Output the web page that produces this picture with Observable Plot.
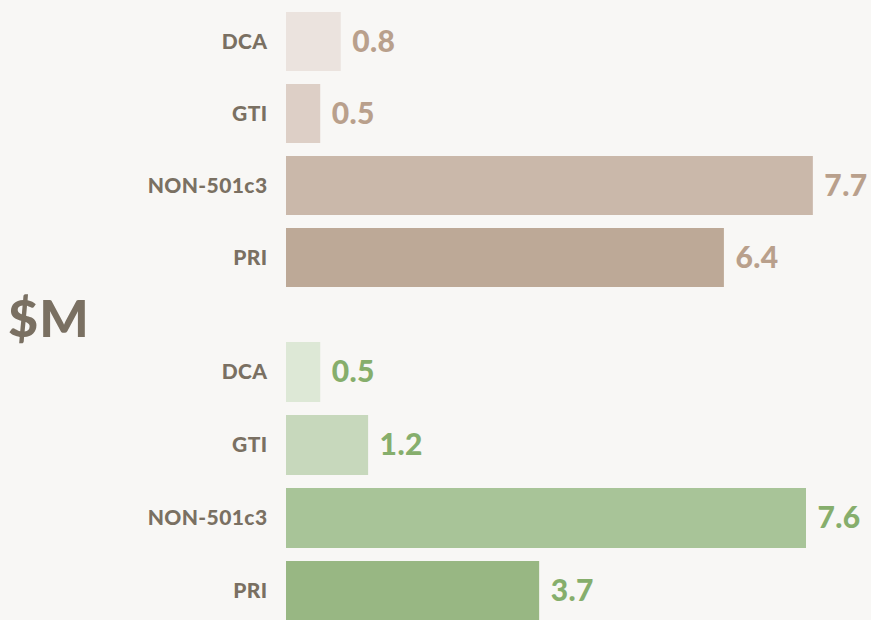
<!DOCTYPE html>
<html>
<head>
<meta charset="utf-8">
<script src="https://cdn.jsdelivr.net/npm/d3@7"></script>
<script src="https://cdn.jsdelivr.net/npm/@observablehq/plot@0.6"></script>
<style>
  html, body { margin: 0; padding: 0; background: #f8f7f5; overflow: hidden; }
  #wrap { position: relative; width: 871px; height: 620px; overflow: hidden; background: #f8f7f5; font-family: Lato, "Open Sans", sans-serif; }
  #wrap svg { display: block; background: transparent; }
  #unit { position: absolute; left: 8px; top: 291px; font-size: 52px; line-height: 52px; font-weight: 900; letter-spacing: 1px; color: #7a7062; }
</style>
</head>
<body>
<div id="wrap"><div id="unit">$M</div></div>
<script>
const categories = ["DCA", "GTI", "NON-501c3", "PRI"];
const topValues = [0.8, 0.5, 7.7, 6.4];
const bottomValues = [0.5, 1.2, 7.6, 3.7];
const topColors = ["#ebe3de", "#ddcfc6", "#cab8aa", "#bda997"];
const bottomColors = ["#dde8d6", "#c7d8bc", "#a8c498", "#98b783"];
const topLabelColor = "#b9a08c";
const bottomLabelColor = "#86ae6c";
const axisColor = "#7a7062";

function groupChart(values, colors, labelColor, height, marginTop) {
  const data = categories.map((c, i) => ({category: c, value: values[i]}));
  return Plot.plot({
    width: 871,
    height,
    marginTop,
    marginBottom: 0,
    marginLeft: 286,
    marginRight: 0,
    style: {background: "transparent", color: axisColor, fontFamily: "Lato, 'Open Sans', sans-serif", fontSize: "21px", fontWeight: "900", letterSpacing: "0.4px"},
    x: {domain: [0, 8.55], axis: null},
    y: {domain: categories, paddingInner: 0.18, paddingOuter: 0.09, tickSize: 0, tickPadding: 19, label: null},
    color: {domain: categories, range: colors},
    marks: [
      Plot.barX(data, {y: "category", x: "value", fill: "category"}),
      Plot.text(data, {y: "category", x: "value", text: d => d.value.toFixed(1), textAnchor: "start", dx: 11, fill: labelColor, fontSize: 30, fontWeight: 900, style: "letter-spacing: 2.5px"})
    ]
  });
}

const wrap = document.getElementById("wrap");
wrap.appendChild(groupChart(topValues, topColors, topLabelColor, 295, 4));
wrap.appendChild(groupChart(bottomValues, bottomColors, bottomLabelColor, 334, 39));
</script>
</body>
</html>
